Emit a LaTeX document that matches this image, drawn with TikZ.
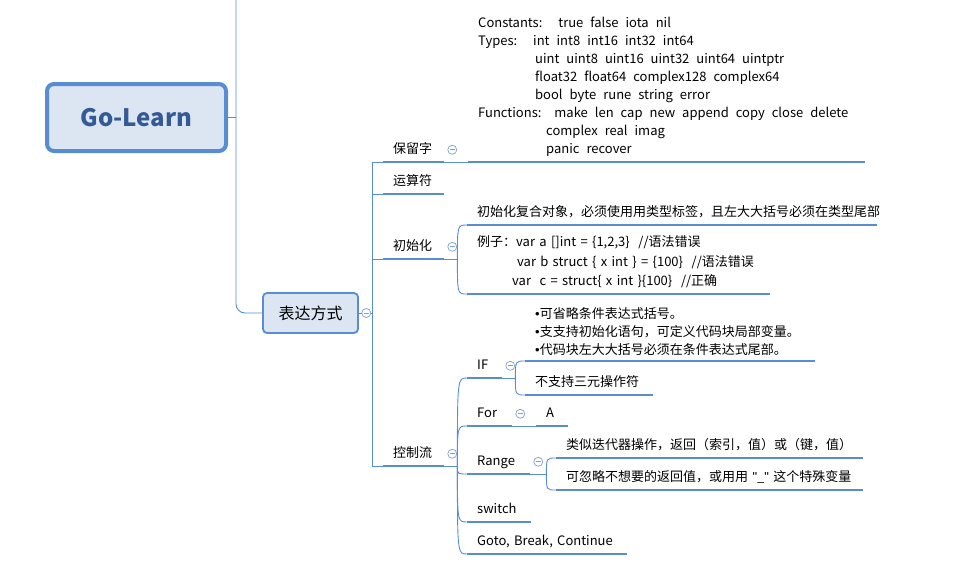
\documentclass[tikz,border=0pt]{standalone}
\usepackage{fontspec}
\setmainfont{Noto Sans CJK SC}
\newfontfamily\latinfont{Liberation Sans}
\usetikzlibrary{positioning}
\definecolor{lineblue}{RGB}{88,141,212}
\definecolor{boxfill}{RGB}{220,230,242}
\definecolor{roottext}{RGB}{52,90,150}
\definecolor{foldblue}{RGB}{125,160,215}
\newcommand\widespaces{\spaceskip=7pt plus 1pt\relax}
\newcommand\dotitem{{\latinfont •}}
\newcommand\squote{{\latinfont "}}

\tikzset{
  uline/.style={draw=lineblue,line width=2.6pt},
  link/.style={draw=lineblue,line width=0.9pt},
  topic/.style={anchor=south west,inner xsep=10pt,inner ysep=5.5pt,align=left,
    font=\fontsize{13}{18}\selectfont,
    append after command={(\tikzlastnode.south west) edge[uline] (\tikzlastnode.south east)}},
  oneline/.style={topic,text height=10pt,text depth=3pt},
  fold/.style={circle,draw=foldblue,fill=white,line width=0.7pt,minimum size=9pt,inner sep=0pt,
    path picture={\draw[foldblue,line width=0.7pt]
      ([xshift=-2.6pt]path picture bounding box.center) -- ([xshift=2.6pt]path picture bounding box.center);}},
  root/.style={draw=lineblue,line width=4pt,fill=boxfill,rounded corners=7pt,
    minimum width=179pt,minimum height=67pt,text=roottext,
    font=\fontsize{24}{28}\selectfont\bfseries},
  mainbox/.style={draw=lineblue,line width=1.8pt,fill=boxfill,rounded corners=4pt,
    minimum width=95pt,minimum height=40pt,font=\fontsize{16}{20}\selectfont},
}

\begin{document}
\begin{tikzpicture}[x=1pt,y=-1pt]
\useasboundingbox (0,0) rectangle (969,573);

% central topics
\node[root] (root) at (136.5,117.5) {Go-Learn};
\node[mainbox] (expr) at (310.5,313) {表达方式};
\coordinate (trunk) at (236,0);

% first level
\node[oneline,text width=41pt] (kw) at (383,162) {保留字};
\node[oneline,text width=41pt] (op) at (383,194) {运算符};
\node[oneline,text width=41pt] (init) at (383,259) {初始化};
\node[oneline,text width=41pt] (flow) at (383,466) {控制流};

% keywords
\node[topic,text width=377pt] (kwd) at (468,162)
{\widespaces Constants:\hspace{16pt}true false iota nil\\
Types:\hspace{16pt}int int8 int16 int32 int64\\
\hspace*{57pt}uint uint8 uint16 uint32 uint64 uintptr\\
\hspace*{57pt}float32 float64 complex128 complex64\\
\hspace*{57pt}bool byte rune string error\\
Functions:\hspace{13pt}make len cap new append copy close delete\\
\hspace*{68pt}complex real imag\\
\hspace*{68pt}panic recover};

% init
\node[oneline,text width=390pt] (initA) at (467,225) {\mbox{初始化复合对象，必须使用用类型标签，且左大大括号必须在类型尾部}};
\node[topic,text width=283pt,font=\fontsize{13}{19.5}\selectfont] (initB) at (467,294)
{例子：var a []int = \{1,2,3\}\ \ //语法错误\\
\hspace*{40pt}var b struct \{ x int \} = \{100\}\ \ //语法错误\\
\hspace*{35pt}var\ \ c = struct\{ x int \}\{100\}\ \ //正确};

% control flow
\node[oneline,text width=15pt] (if) at (467,378) {IF};
\node[topic,text width=270pt] (ifA) at (525,361)
{\dotitem 可省略条件表达式括号。\\
\dotitem 支支持初始化语句，可定义代码块局部变量。\\
\dotitem 代码块左大大括号必须在条件表达式尾部。};
\node[oneline,text width=108pt] (ifB) at (525,395) {不支持三元操作符};
\node[oneline,text width=25pt] (for) at (467,426) {For};
\node[oneline,text width=12pt] (forA) at (536,426) {A};
\node[oneline,text width=43pt] (range) at (467,474) {Range};
\node[oneline,text width=287pt] (rangeA) at (556,458) {类似迭代器操作，返回（索引，值）或（键，值）};
\node[oneline,text width=287pt] (rangeB) at (556,490) {\mbox{可忽略不想要的返回值，或用用 \squote\_\squote{} 这个特殊变量}};
\node[oneline,text width=44pt] (sw) at (467,522) {switch};
\node[oneline,text width=140pt] (jump) at (467,554) {Goto, Break, Continue};

% connectors
\draw[link,rounded corners=9pt] (trunk) |- (expr.west);
\draw[link] (root.east) -- (root.east -| trunk);
\draw[link] (expr.east) -- ++(14,0) coordinate (spine);
\draw[link] (kw.south west) -| (spine) |- (flow.south west);
\draw[link] (spine |- op.south west) -- (op.south west);
\draw[link] (spine |- init.south west) -- (init.south west);
\draw[link] (kw.south east) -- (kwd.south west);

\draw[link] (init.south east) -- ++(13,0) coordinate (initv);
\foreach \t in {initA,initB}
  \draw[link] (initv) .. controls (initv |- \t.south west) .. (\t.south west);

\draw[link] (flow.south east) -- ++(13,0) coordinate (flowv);
\foreach \t in {if,for,range,sw,jump}
  \draw[link] (flowv) .. controls (flowv |- \t.south west) .. (\t.south west);

\draw[link] (if.south east) -- ++(13,0) coordinate (ifv);
\foreach \t in {ifA,ifB}
  \draw[link] (ifv) .. controls (ifv |- \t.south west) .. (\t.south west);

\draw[link] (for.south east) -- (forA.south west);

\draw[link] (range.south east) -- ++(16,0) coordinate (rangev);
\foreach \t in {rangeA,rangeB}
  \draw[link] (rangev) .. controls (rangev |- \t.south west) .. (\t.south west);

% fold marks
\node[fold,right=2.5pt of expr] (exprfold) {};
\node[fold,right=3pt of kw] (kwfold) {};
\node[fold,right=3pt of init] (initfold) {};
\node[fold,right=3pt of flow] (flowfold) {};
\node[fold,right=3pt of if] (iffold) {};
\node[fold,right=3pt of for] (forfold) {};
\node[fold,right=3pt of range] (rangefold) {};
\end{tikzpicture}
\end{document}
